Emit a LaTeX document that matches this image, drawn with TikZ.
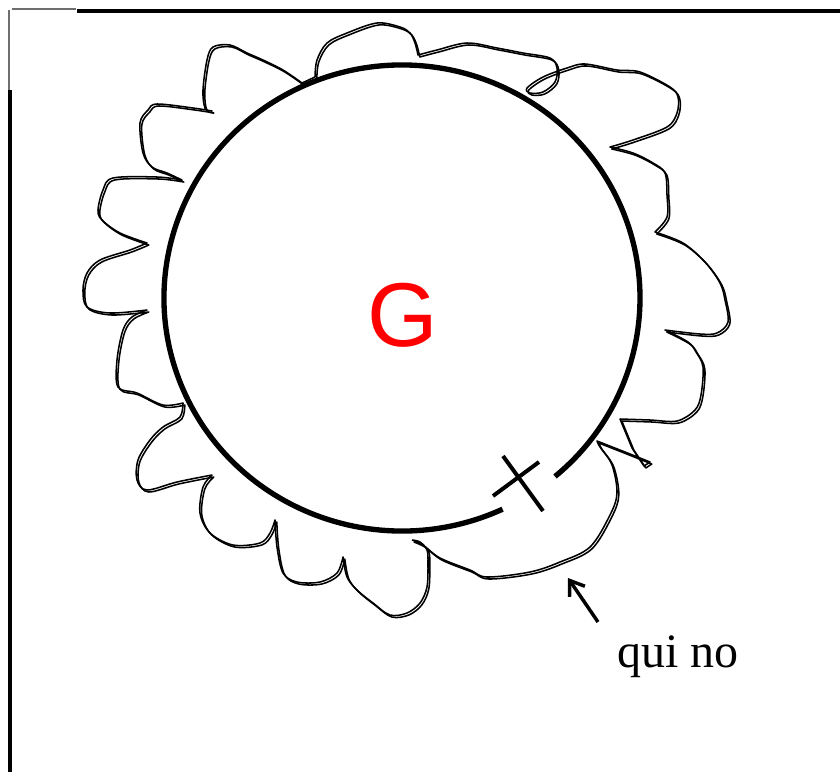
\documentclass[tikz,border=0pt]{standalone}
\usepackage{fontspec}
\setmainfont{Liberation Serif}
\newfontfamily\gfont{Liberation Sans}
\usepackage{tikz}
\usetikzlibrary{arrows.meta}
\definecolor{InkBlack}{HTML}{000000}
\definecolor{FrameGrey}{HTML}{6E6E6E}
\definecolor{PureRed}{HTML}{FF0000}

% hand drawn rim round the disc, one smooth run between two cusps
\newcommand{\petalrim}{%
  plot[smooth, tension=.55] coordinates {(412,540) (423,545) (440,558) (470,570) (487,577) (530,572) (560,562) (590,547) (610,515) (617,493) (612,465) (600,447) (597,441)}
  -- (625,452) -- (650,462) -- (644,466) -- (632,448) -- (620,419)
  -- plot[smooth, tension=.55] coordinates {(620,419) (650,420) (677,421) (695,410) (701,395) (703,367) (696,352) (688,342) (665,330)}
  -- plot[smooth, tension=.55] coordinates {(665,330) (700,334) (717,333) (728,322) (725,300) (720,283) (705,262) (683,243) (655,232)}
  -- plot[smooth, tension=.55] coordinates {(655,232) (667,217) (667,195) (665,173) (653,163) (633,153) (610,147)}
  -- plot[smooth, tension=.55] coordinates {(610,147) (633,140) (667,127) (677,113) (678,97) (670,87) (640,72) (617,70) (585,64) (567,68) (543,77) (527,88) (530,93) (543,92) (555,82) (557,68) (550,58) (523,53) (497,48) (467,43) (437,50) (418,55)}
  -- plot[smooth, tension=.55] coordinates {(418,55) (415,43) (410,33) (400,27) (377,23) (347,33) (327,43) (317,60) (315,77)}
  -- plot[smooth, tension=.55] coordinates {(302,83) (283,70) (263,60) (247,53) (230,45) (213,47) (207,60) (203,90) (205,108) (212,111)}
  -- plot[smooth, tension=.55] coordinates {(212,111) (193,108) (157,104) (148,110) (140,123) (143,153) (152,167) (167,173) (182,180)}
  -- plot[smooth, tension=.55] coordinates {(182,180) (157,177) (113,178) (103,190) (98,210) (102,220) (120,233) (147,243)}
  -- plot[smooth, tension=.55] coordinates {(147,243) (130,250) (100,260) (87,273) (83,290) (87,307) (110,313) (147,310)}
  -- plot[smooth, tension=.55] coordinates {(147,310) (132,317) (123,330) (117,360) (118,387) (137,393) (163,405) (183,403)}
  -- plot[smooth, tension=.55] coordinates {(183,403) (180,417) (163,427) (150,440) (138,460) (137,480) (147,490) (177,482) (212,475)}
  -- plot[smooth, tension=.55] coordinates {(212,475) (203,487) (200,513) (210,533) (233,545) (260,543) (270,533) (275,520)}
  -- plot[smooth, tension=.55] coordinates {(275,520) (277,547) (283,573) (297,582) (320,582) (337,573) (343,557)}
  -- plot[smooth, tension=.55] coordinates {(343,557) (347,577) (357,590) (373,603) (390,615) (407,613) (420,603) (427,587) (428,563) (427,550) (420,542) (412,540)}}

\begin{document}
\begin{tikzpicture}[
  x=0.75pt, y=-0.75pt,
  framerule/.style={draw=InkBlack, line width=2.6pt},
  framefaint/.style={draw=FrameGrey, line width=1.4pt},
  ringline/.style={draw=InkBlack, line width=4pt},
  crossline/.style={draw=InkBlack, line width=3pt},
  petal/.style={draw=InkBlack, line width=1.15pt, line join=round},
  pointer/.style={-{Straight Barb[length=10pt, width=14pt]}, line width=2.6pt, draw=InkBlack},
  glabel/.style={text=PureRed, font=\gfont\fontsize{68}{68}\selectfont, inner sep=0pt, anchor=base},
  notelabel/.style={font=\fontsize{36}{36}\selectfont, inner sep=0pt, anchor=base west}
]
\useasboundingbox (0,0) rectangle (840,772);
% page frame
\draw[framefaint] (12,9) -- (76,9);
\draw[framerule] (77,11) -- (840,11);
\draw[framefaint] (9,10) -- (9,95);
\draw[framerule] (10,90) -- (10,772);

% disc with a gap and the cut
\coordinate (ctr) at (402,298);
\draw[ringline] ([shift={(65:238 and 233)}]ctr) arc[start angle=65, end angle=410, x radius=238, y radius=233];
\draw[crossline] (503,456) -- (543,511);
\draw[crossline] (493,496) -- (539,462);

% rim, drawn twice like a pen going over it again
\draw[petal] \petalrim;
\draw[petal, shift={(1.8,2)}] \petalrim;

\node[glabel] (gee) at (403,346) {G};
\node[notelabel] (quino) at (617,667) {qui no};
\coordinate (tailpt) at (598,622);
\coordinate (tippt) at (568,578);
\draw[pointer] (tailpt) -- (tippt);
\end{tikzpicture}
\end{document}
